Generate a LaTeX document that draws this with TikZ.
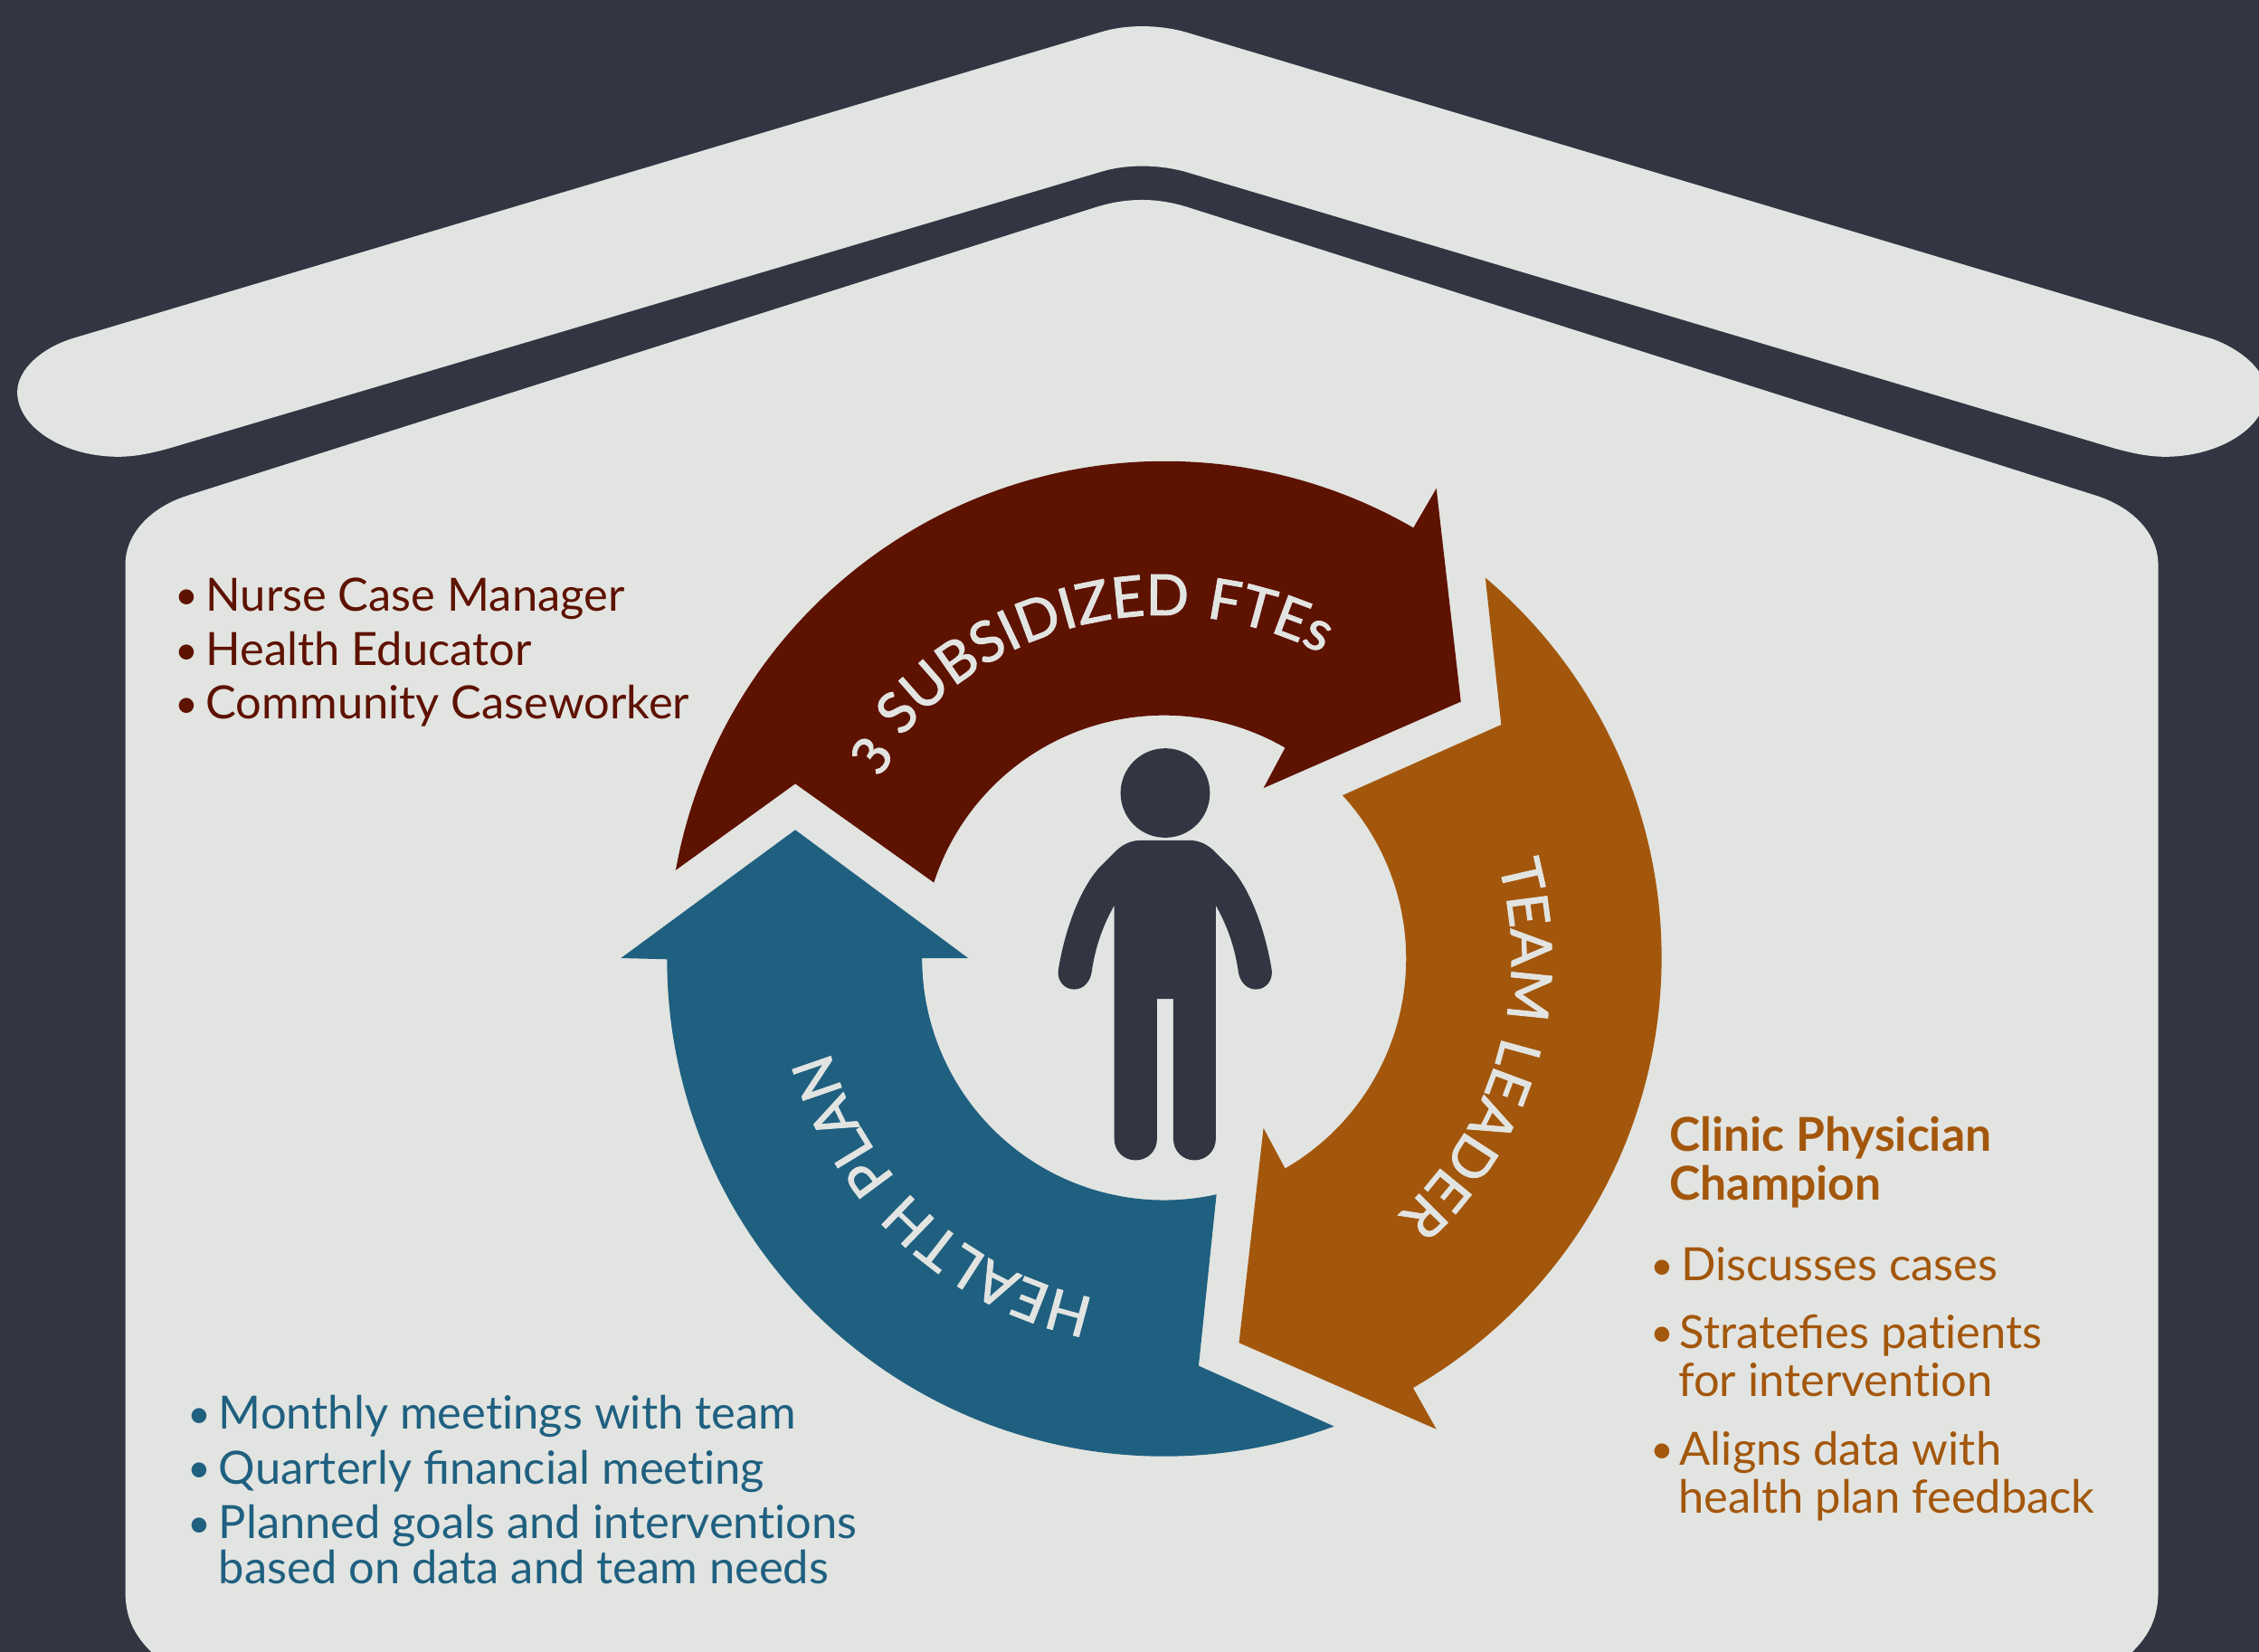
\documentclass[tikz,border=0pt]{standalone}
\usepackage{fontspec}
\usetikzlibrary{decorations.text}
\setmainfont[Ligatures=NoCommon]{Lato}
\setsansfont[Ligatures=NoCommon]{Lato}
\newfontfamily\curvefont[LetterSpace=5,FakeBold=1.6]{Lato}
\newfontfamily\oldnum[Numbers=OldStyle,FakeBold=1.4]{Fira Sans}
\newcommand{\curvesize}{\fontsize{19.6pt}{22pt}\selectfont}
\definecolor{bgdark}{HTML}{323642}
\definecolor{housegrey}{HTML}{E2E4E1}
\definecolor{arrowred}{HTML}{5E1200}
\definecolor{arroworange}{HTML}{A3570C}
\definecolor{arrowblue}{HTML}{1F6080}
\tikzset{
  listtext/.style={anchor=base west,inner sep=0pt,font=\fontsize{15.9pt}{18pt}\selectfont},
  bullettext/.style={anchor=base west,inner sep=0pt,font=\fontsize{14pt}{18pt}\selectfont},
  redtext/.style={listtext,text=arrowred},
  bluetext/.style={listtext,text=arrowblue},
  orangetext/.style={listtext,text=arroworange},
  redbullet/.style={bullettext,text=arrowred},
  bluebullet/.style={bullettext,text=arrowblue},
  orangebullet/.style={bullettext,text=arroworange},
  headtext/.style={orangetext,font=\fontsize{16.2pt}{18pt}\selectfont\bfseries},
  curvelabel/.style={decorate,decoration={text along path,text align=center,text color=housegrey,text={#1}}}
}
\begin{document}
\begin{tikzpicture}[x=0.5pt,y=-0.5pt]
\useasboundingbox (0,0) rectangle (1568,1146.6);
\clip (0,0) rectangle (1568,1146.6);
\fill[bgdark] (0,0) rectangle (1568,1146.6);
% roof
\fill[housegrey] (765,22) .. controls (782,17) and (803,17) .. (822,22) -- (1535,235)
 .. controls (1555,242) and (1573,257) .. (1573,272) .. controls (1573,297) and (1540,317) .. (1503,317)
 .. controls (1490,317) and (1478,314) .. (1467,311) -- (822,119)
 .. controls (803,114) and (782,114) .. (765,119) -- (118,311)
 .. controls (107,314) and (95,317) .. (82,317) .. controls (45,317) and (12,297) .. (12,272)
 .. controls (12,257) and (28,242) .. (50,235) -- cycle;
% house
\fill[housegrey] (760,144) .. controls (782,137) and (803,137) .. (825,144) -- (1455,344)
 .. controls (1480,352) and (1498,370) .. (1498,392) -- (1498,1105)
 .. controls (1498,1125) and (1490,1140) .. (1470,1155) -- (115,1155)
 .. controls (95,1140) and (87,1125) .. (87,1105) -- (87,392)
 .. controls (87,370) and (105,352) .. (130,344) -- cycle;
% arrows
\coordinate (c) at (808,665);
\fill[arrowred] (469,604) arc[start angle=190.2,end angle=300,radius=345] -- (997,339) -- (1014,487) -- (877,547) -- (892,519) arc[start angle=300,end angle=198,radius=168] -- (552,544) -- cycle;
\fill[arroworange] (1031,401) arc[start angle=310.2,end angle=420,radius=345] -- (997,992) -- (860,932) -- (877,783) -- (892,811) arc[start angle=420,end angle=317.5,radius=168] -- (1042,503) -- cycle;
\fill[arrowblue] (926,990) arc[start angle=70,end angle=180,radius=345] -- (431,665) -- (552,576) -- (672,665) -- (640,665) arc[start angle=180,end angle=77.5,radius=168] -- (832,948) -- cycle;
% curved labels
\path[curvelabel={|\oldnum\curvesize|3|\curvefont\curvesize| SUBSIDIZED FTEs}] (c) ++(195:238) arc[start angle=195,end angle=315,radius=238];
\path[curvelabel={|\curvefont\curvesize|TEAM LEADER}] (c) ++(-44:241) arc[start angle=-44,end angle=76,radius=241];
\path[curvelabel={|\curvefont\curvesize|HEALTH PLAN}] (c) ++(73:241) arc[start angle=73,end angle=193,radius=241];
% person
\fill[bgdark] (808.8,550.4) circle[radius=31];
\fill[bgdark] (791.2,583.3) -- (826.1,583.3) .. controls (832,583.3) and (838,586) .. (842.8,590.7)
 -- (855,603) .. controls (868,618) and (878,645) .. (882.6,672.5)
 .. controls (884,680) and (879,686.7) .. (871.7,686.7) .. controls (865,686.7) and (860.5,681) .. (859.6,674.8)
 .. controls (857,657) and (852,643) .. (843.9,628.4) -- (843.9,790.3)
 .. controls (843.9,799) and (837,805.3) .. (829.2,805.3) .. controls (821,805.3) and (814.4,799) .. (814.4,790.3)
 -- (814.4,693.4) -- (803.1,693.4) -- (803.1,790.3)
 .. controls (803.1,799) and (796.5,805.3) .. (788.2,805.3) .. controls (780,805.3) and (773.4,799) .. (773.4,790.3)
 -- (773.4,628.4) .. controls (765.3,643) and (760.3,657) .. (757.7,674.8)
 .. controls (756.8,681) and (752.3,686.7) .. (745.6,686.7) .. controls (738.3,686.7) and (733.3,680) .. (734.7,672.5)
 .. controls (739.3,645) and (749.3,618) .. (762.3,603) -- (774.5,590.7)
 .. controls (779.3,586) and (785.3,583.3) .. (791.2,583.3) -- cycle;
% red list
\node[redbullet] (rb1) at (121,423) {•};
\node[redtext] (rt1) at (142.5,424) {Nurse Case Manager};
\node[redbullet] (rb2) at (121,461) {•};
\node[redtext] (rt2) at (142.5,462) {Health Educator};
\node[redbullet] (rb3) at (121,498) {•};
\node[redtext] (rt3) at (142.5,499) {Community Caseworker};
% blue list
\node[bluebullet] (bb1) at (130,991) {•};
\node[bluetext] (bt1) at (151.5,992) {Monthly meetings with team};
\node[bluebullet] (bb2) at (130,1029) {•};
\node[bluetext] (bt2) at (151.5,1030) {Quarterly ﬁnancial meeting};
\node[bluebullet] (bb3) at (130,1067) {•};
\node[bluetext] (bt3) at (151.5,1068) {Planned goals and interventions};
\node[bluetext] (bt4) at (151.5,1099) {based on data and team needs};
% orange list
\node[headtext] (oh1) at (1158.5,799) {Clinic Physician};
\node[headtext] (oh2) at (1158.5,833) {Champion};
\node[orangebullet] (ob1) at (1145,888) {•};
\node[orangetext] (ot1) at (1166.5,889) {Discusses cases};
\node[orangebullet] (ob2) at (1145,935) {•};
\node[orangetext] (ot2) at (1165.5,936) {Strateﬁes patients};
\node[orangetext] (ot3) at (1164.5,969) {for intervention};
\node[orangebullet] (ob3) at (1145,1016) {•};
\node[orangetext] (ot4) at (1165.5,1017) {Aligns data with};
\node[orangetext] (ot5) at (1164.5,1050) {health plan feedback};
\end{tikzpicture}
\end{document}
